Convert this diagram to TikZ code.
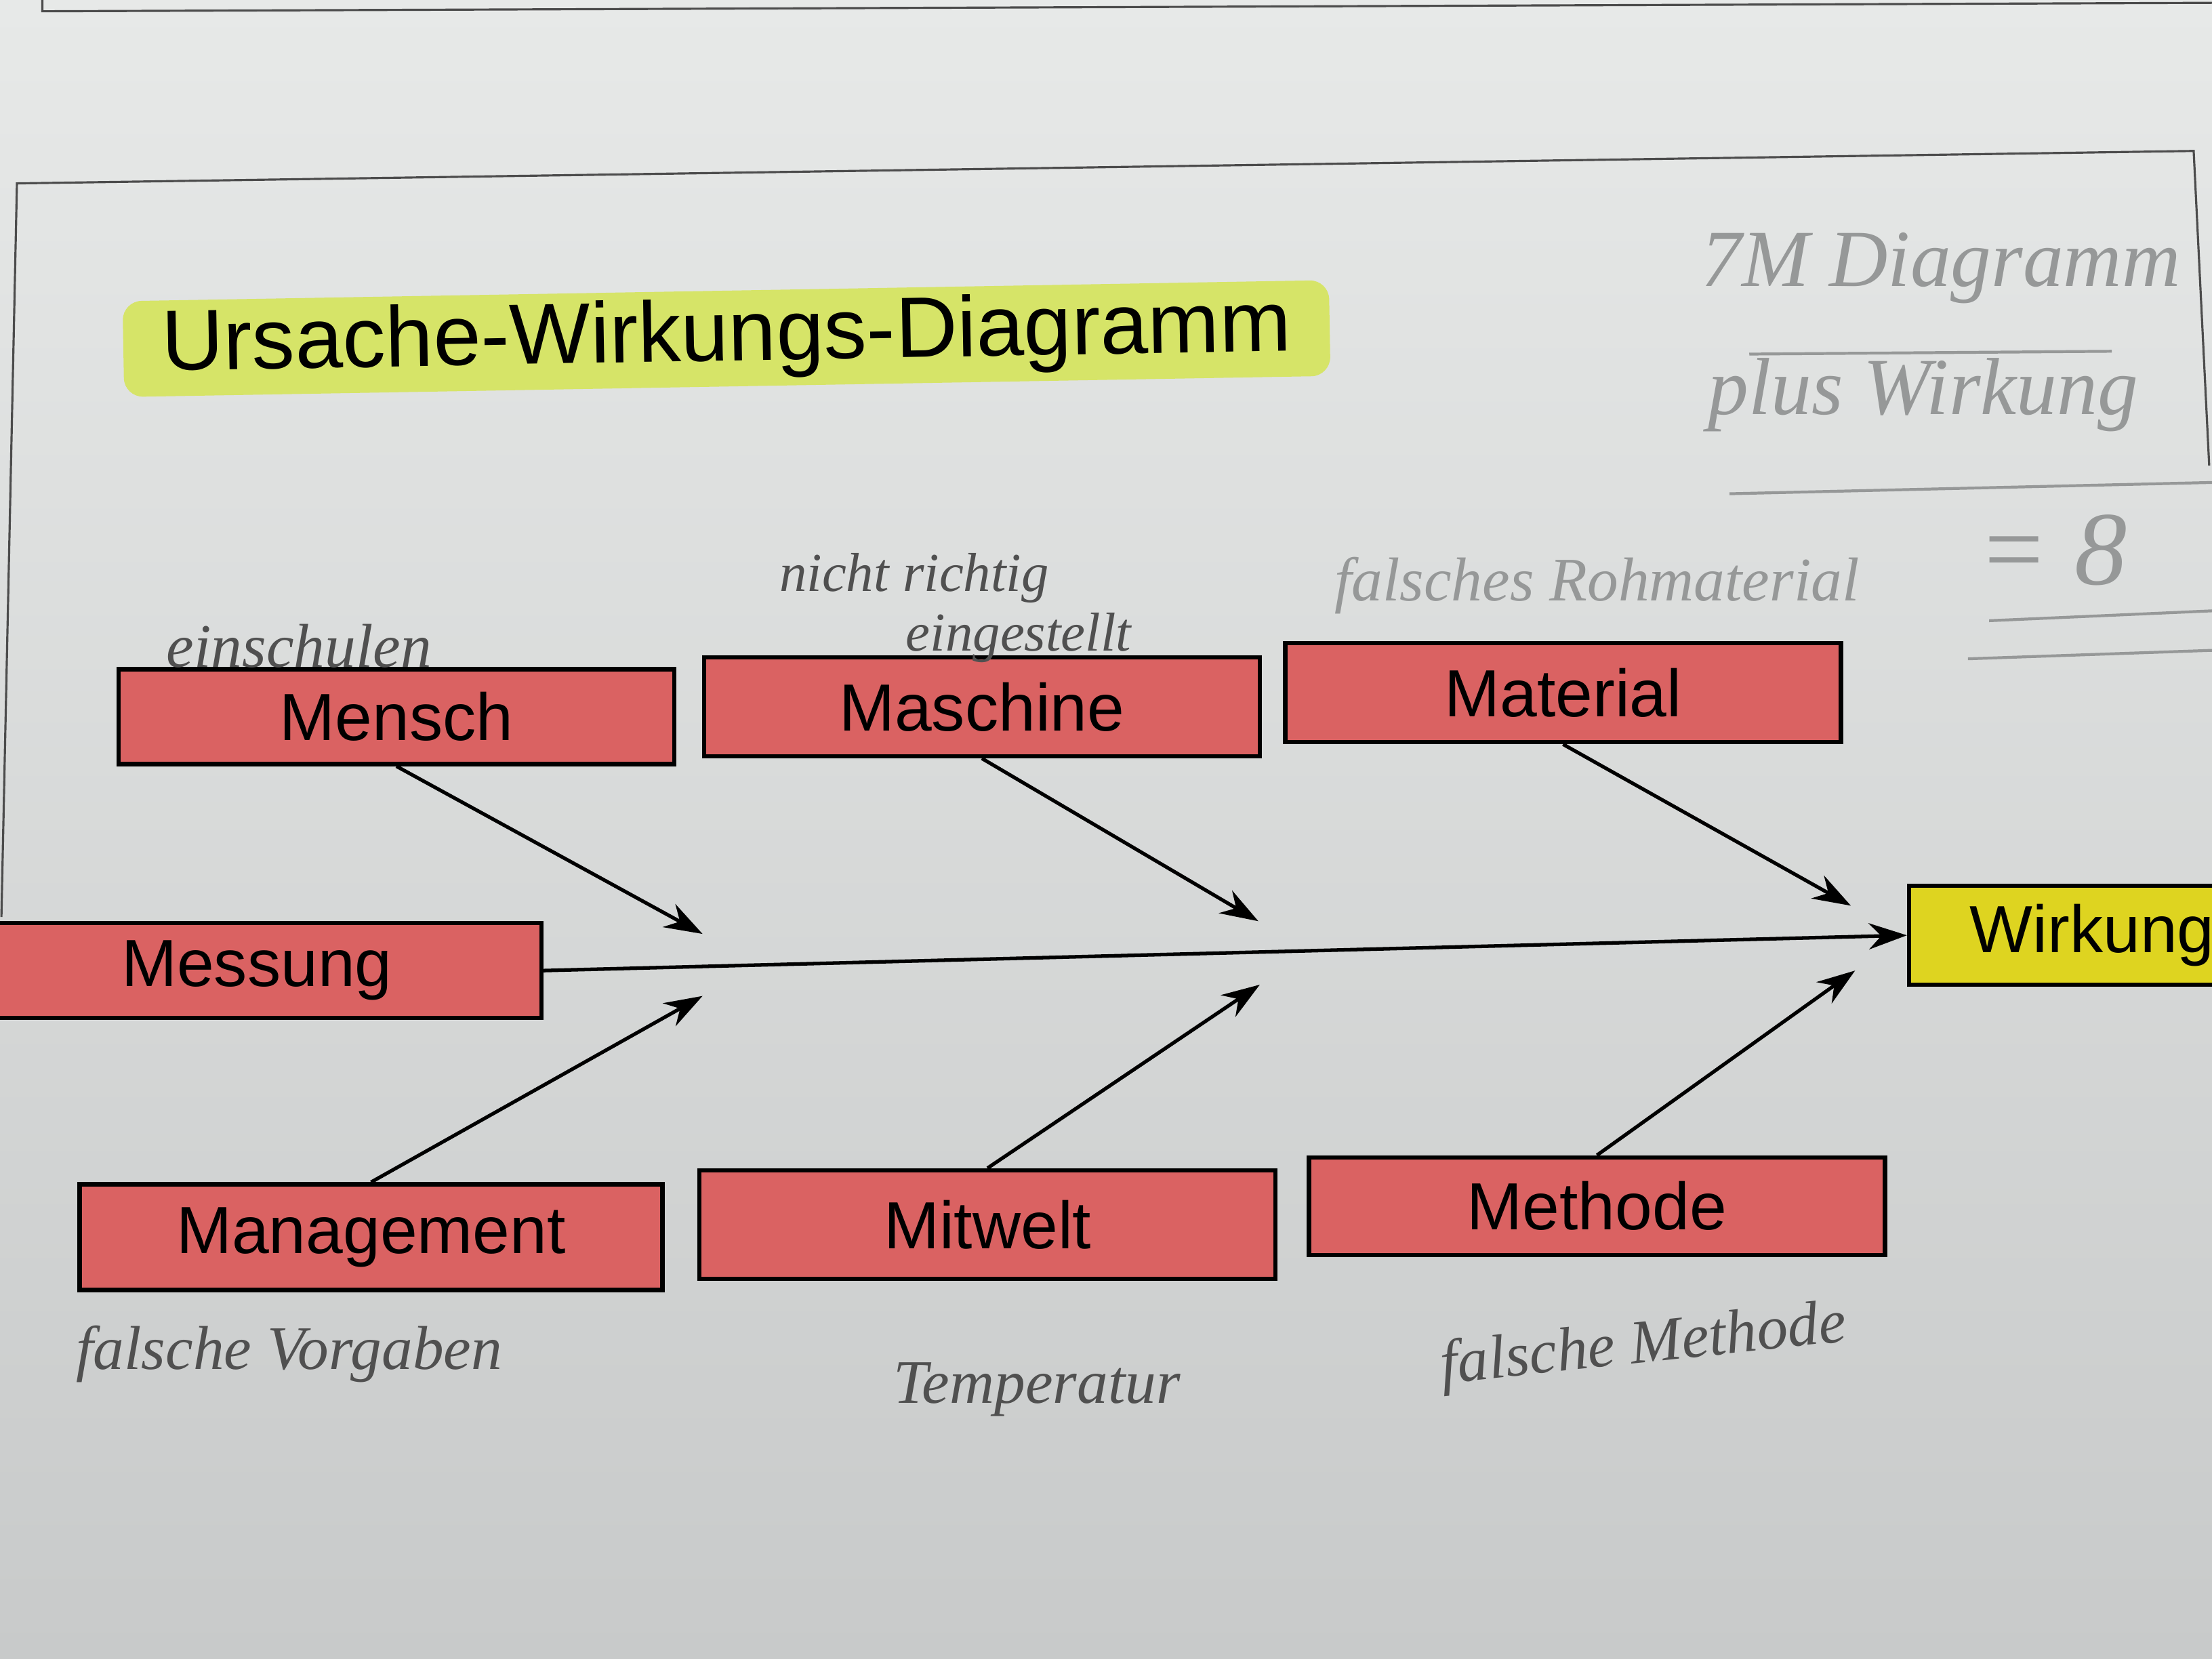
\documentclass[tikz,border=0pt]{standalone}
\usepackage{fontspec}
\setmainfont{Liberation Sans}
\newfontfamily\handfont{Liberation Serif}
\usetikzlibrary{arrows.meta}
\definecolor{papertop}{RGB}{231,233,232}
\definecolor{paperbot}{RGB}{200,202,202}
\definecolor{boxred}{RGB}{218,98,98}
\definecolor{wirkgelb}{RGB}{222,212,32}
\definecolor{hilite}{RGB}{214,228,104}
\definecolor{pen}{RGB}{80,80,80}
\definecolor{pencilgray}{RGB}{150,152,152}
\tikzset{
  cause/.style={draw=black, line width=1.8pt, fill=boxred, minimum width=8.2cm,
    minimum height=1.4cm, font=\fontsize{28}{30}\selectfont},
  effect/.style={cause, fill=wirkgelb, minimum width=5.4cm},
  note/.style={text=pen, font=\handfont\itshape\fontsize{26}{28}\selectfont},
  pencil/.style={note, text=pencilgray},
  bignote/.style={pencil, anchor=west, font=\handfont\itshape\fontsize{34}{36}\selectfont},
  frame/.style={draw=black!70, line width=0.9pt},
  pencilline/.style={draw=pencilgray, line width=1.2pt}
}
\begin{document}
\begin{tikzpicture}[x=0.02082cm, y=-0.02082cm]
  \useasboundingbox (0,0) rectangle (1568,1176);
  \shade[top color=papertop, bottom color=paperbot] (0,0) rectangle (1568,1176);
  \draw[frame] (30,0) -- (30,8) -- (1568,2);
  \draw[frame] (1,650) -- (12,130) -- (1555,107) -- (1566,330);

  \node[fill=hilite, rounded corners=8pt, rotate=1, minimum width=17.8cm,
    minimum height=1.2cm, font=\fontsize{36}{38}\selectfont] (title) at (515,240)
    {Ursache-Wirkungs-Diagramm};

  \node[cause] (mensch) at (281,508) {Mensch};
  \node[cause, minimum height=1.46cm] (maschine) at (696,501) {Maschine};
  \node[cause, minimum height=1.46cm] (material) at (1108,491) {Material};
  \node[cause, minimum width=8.4cm] (messung) at (182,688) {Messung};
  \node[effect, minimum height=1.46cm] (wirkung) at (1483,663) {Wirkung};
  \node[cause, minimum width=8.6cm, minimum height=1.56cm] (management) at (263,877) {Management};
  \node[cause, minimum width=8.5cm, minimum height=1.6cm] (mitwelt) at (700,868) {Mitwelt};
  \node[cause, minimum width=8.5cm, minimum height=1.44cm] (methode) at (1132,855) {Methode};

  \coordinate (top1) at (498,662);
  \coordinate (top2) at (892,653);
  \coordinate (top3) at (1312,642);
  \coordinate (bot1) at (498,706);
  \coordinate (bot2) at (893,698);
  \coordinate (bot3) at (1315,688);

  \begin{scope}[-{Stealth[length=16pt, width=11pt]}, line width=1.5pt]
    \draw (mensch.south) -- (top1);
    \draw (maschine.south) -- (top2);
    \draw (material.south) -- (top3);
    \draw (messung.east) -- (wirkung.west);
    \draw (management.north) -- (bot1);
    \draw (mitwelt.north) -- (bot2);
    \draw (methode.north) -- (bot3);
  \end{scope}

  \node[note] (n-mensch) at (212,458) {einschulen};
  \node[note, font=\handfont\itshape\fontsize{23}{25}\selectfont] (n-maschine1) at (648,410) {nicht richtig};
  \node[note, font=\handfont\itshape\fontsize{23}{25}\selectfont] (n-maschine2) at (722,452) {eingestellt};
  \node[pencil] (n-material) at (1132,415) {falsches Rohmaterial};
  \node[note] (n-management) at (205,960) {falsche Vorgaben};
  \node[note] (n-mitwelt) at (735,985) {Temperatur};
  \node[note, rotate=6] (n-methode) at (1165,955) {falsche Methode};

  \node[bignote] (n-sieben) at (1200,190) {7M Diagramm};
  \draw[pencilline] (1240,251) -- (1497,249);
  \node[bignote] (n-plus) at (1205,280) {plus Wirkung};
  \draw[pencilline] (1226,350) -- (1568,342);
  \node[pencil, font=\handfont\itshape\fontsize{44}{46}\selectfont] (n-acht) at (1455,390) {= 8};
  \draw[pencilline] (1410,440) -- (1568,433);
  \draw[pencilline] (1395,467) -- (1568,461);
\end{tikzpicture}
\end{document}
